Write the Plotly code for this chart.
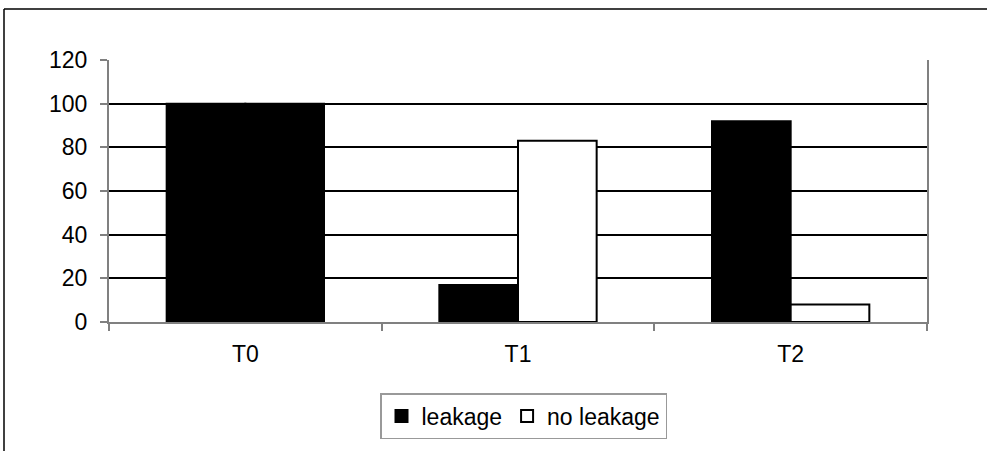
import plotly.graph_objects as go

categories = ["T0", "T1", "T2"]
leakage = [100, 17, 92]
no_leakage = [100, 83, 8]
no_leakage_fill = ["black", "white", "white"]
y_ticks = [0, 20, 40, 60, 80, 100, 120]

FONT = "Liberation Sans, Arial, sans-serif"

fig = go.Figure()
fig.add_trace(go.Bar(
    name="leakage", x=categories, y=leakage, offsetgroup="a",
    marker=dict(color="black", line=dict(color="black", width=2)),
))
fig.add_trace(go.Bar(
    name="no leakage", x=categories, y=no_leakage, offsetgroup="b",
    showlegend=False,
    marker=dict(color=no_leakage_fill, line=dict(color="black", width=2)),
))
# legend entry for "no leakage" (white swatch)
fig.add_trace(go.Bar(
    name="no leakage", x=[categories[0]], y=[None], offsetgroup="b",
    marker=dict(color="white", line=dict(color="black", width=2)),
))

L, R, T, B = 109, 60, 60, 129
W, H = 987, 451
ph = H - T - B
pw = W - L - R

fig.update_layout(
    width=W, height=H,
    margin=dict(l=L, r=R, t=T, b=B),
    paper_bgcolor="white", plot_bgcolor="white",
    barmode="group", bargap=0.423, bargroupgap=0,
    font=dict(family=FONT, size=23, color="black"),
    showlegend=True,
    legend=dict(
        orientation="h", x=(523.5 - L) / pw, xanchor="center",
        y=(322 - 393) / ph, yanchor="top",
        bordercolor="#999999", borderwidth=1.5, font=dict(size=23),
        itemwidth=30, traceorder="normal",
    ),
    xaxis=dict(
        type="category", showgrid=False, showline=True, linecolor="#808080",
        linewidth=2, ticks="outside", tickson="boundaries", ticklen=7,
        tickcolor="#808080", tickwidth=2, mirror=False,
        ticklabelstandoff=10,
    ),
    yaxis=dict(
        range=[0, 120], tickvals=y_ticks, showgrid=True, gridcolor="black",
        gridwidth=2, showline=True, linecolor="#808080", linewidth=2,
        mirror=True, ticks="outside", ticklen=7, tickcolor="#808080",
        tickwidth=2, zeroline=False, ticklabelstandoff=8,
    ),
    shapes=[
        dict(type="line", xref="paper", yref="paper",
             x0=(4 - L) / pw, x1=(W + 50 - L) / pw,
             y0=(322 - 9) / ph, y1=(322 - 9) / ph,
             line=dict(color="black", width=1.5)),
        dict(type="line", xref="paper", yref="paper",
             x0=(4 - L) / pw, x1=(4 - L) / pw,
             y0=(322 - 9) / ph, y1=-(B + 50) / ph,
             line=dict(color="black", width=1.5)),
    ],
)

fig.write_html(
    "out.html",
    config={"displayModeBar": False},
    post_script="document.body.style.margin='0';document.body.style.overflow='hidden';",
)
